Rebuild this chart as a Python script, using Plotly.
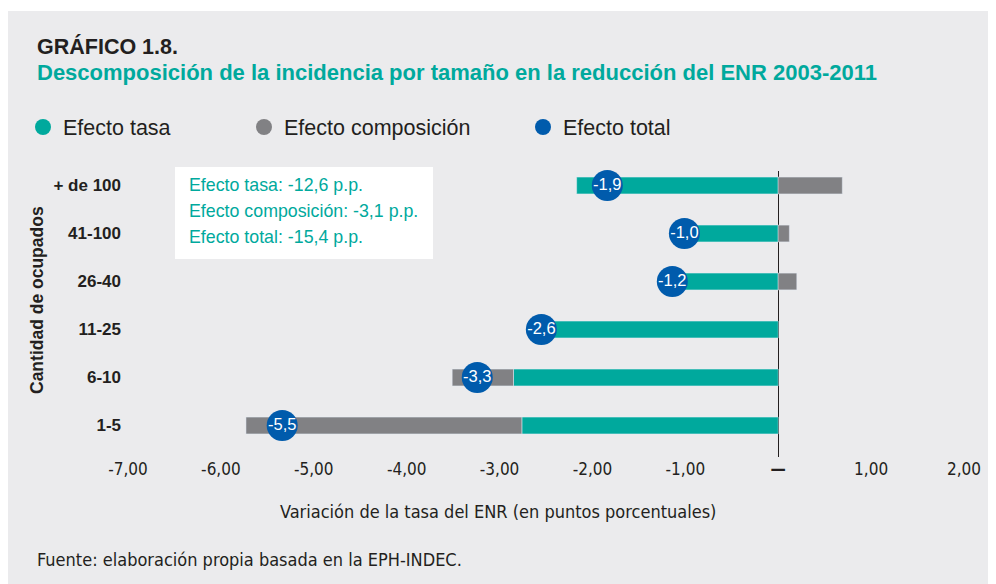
import plotly.graph_objects as go

# ---------------- data ----------------
categories = ["1-5", "6-10", "11-25", "26-40", "41-100", "+ de 100"]
efecto_tasa = [-2.76, -2.85, -2.50, -1.25, -1.10, -2.17]
efecto_composicion = [-2.97, -0.66, -0.05, 0.20, 0.12, 0.69]
efecto_total = [-5.34, -3.24, -2.55, -1.14, -1.01, -1.84]
total_labels = ["-5,5", "-3,3", "-2,6", "-1,2", "-1,0", "-1,9"]
x_tickvals = [-7, -6, -5, -4, -3, -2, -1, 0, 1, 2]
x_ticktext = ["-7,00", "-6,00", "-5,00", "-4,00", "-3,00", "-2,00", "-1,00", "<b>—</b>", "1,00", "2,00"]
box_lines = ["Efecto tasa: -12,6 p.p.", "Efecto composición: -3,1 p.p.", "Efecto total: -15,4 p.p."]

# ---------------- style ----------------
TEAL = "#00A99D"
GRAY = "#818184"
BLUE = "#005BAC"
BG = "#EBEBED"
DARK = "#231F20"
FONT = "Liberation Sans, Arial, Helvetica, sans-serif"
NARROW = "Liberation Sans Narrow, Arial Narrow, DejaVu Sans Condensed, sans-serif"

# page body has an 8px margin: the figure starts at (8, 8) in the window
OFF = 8
PAGE_W, PAGE_H = 996, 584
W, H = PAGE_W - OFF, PAGE_H - OFF
# plot area in window pixels
L, R, T, B = 128, 964, 171, 457


def xp(px):
    return (px - L) / (R - L)


def yp(py):
    return (B - py) / (B - T)


fig = go.Figure()

fig.add_trace(go.Bar(
    x=efecto_tasa, y=categories, orientation="h", marker_color=TEAL,
    width=0.35, showlegend=False, name="Efecto tasa", hoverinfo="x+y"))
fig.add_trace(go.Bar(
    x=efecto_composicion, y=categories, orientation="h", marker_color=GRAY,
    width=0.35, showlegend=False, name="Efecto composición", hoverinfo="x+y"))
fig.add_trace(go.Scatter(
    x=efecto_total, y=categories, mode="markers+text", text=total_labels,
    textposition="middle center",
    textfont=dict(color="white", size=16.5, family=FONT),
    marker=dict(color=BLUE, size=31, line=dict(width=0)),
    showlegend=False, cliponaxis=False, name="Efecto total"))

# legend-only entries (circle symbols)
leg_pos = {"legend": 23, "legend2": 244, "legend3": 523}
for name, col, lg in [("Efecto tasa", TEAL, "legend"),
                      ("Efecto composición", GRAY, "legend2"),
                      ("Efecto total", BLUE, "legend3")]:
    fig.add_trace(go.Scatter(
        x=[None], y=[None], mode="markers", name=name,
        marker=dict(color=col, size=17), legend=lg, showlegend=True))

legend_common = dict(
    orientation="h", xanchor="left", yanchor="middle",
    bgcolor="rgba(0,0,0,0)", font=dict(family=FONT, size=21.5, color=DARK),
    itemsizing="trace")

shapes = [
    dict(type="rect", xref="paper", yref="paper",
         x0=xp(OFF - 2), x1=xp(PAGE_W + 5), y0=yp(11), y1=yp(PAGE_H + 5),
         fillcolor=BG, line=dict(width=0), layer="below"),
    dict(type="rect", xref="paper", yref="paper",
         x0=xp(175), x1=xp(433), y0=yp(167), y1=yp(259),
         fillcolor="white", line=dict(width=0), layer="above"),
]

annotations = [
    dict(text="<b>GRÁFICO 1.8.</b>", x=xp(35), y=yp(46), xref="paper", yref="paper",
         xanchor="left", yanchor="middle", showarrow=False,
         font=dict(family=FONT, size=21.5, color=DARK)),
    dict(text="<b>Descomposición de la incidencia por tamaño en la reducción del ENR 2003-2011</b>",
         x=xp(35), y=yp(73), xref="paper", yref="paper",
         xanchor="left", yanchor="middle", showarrow=False,
         font=dict(family=FONT, size=22, color=TEAL)),
    dict(text="Variación de la tasa del ENR (en puntos porcentuales)",
         x=xp(498), y=yp(511), xref="paper", yref="paper",
         xanchor="center", yanchor="middle", showarrow=False,
         font=dict(family=NARROW, size=18, color=DARK)),
    dict(text="Fuente: elaboración propia basada en la EPH-INDEC.",
         x=xp(35), y=yp(559), xref="paper", yref="paper",
         xanchor="left", yanchor="middle", showarrow=False,
         font=dict(family=NARROW, size=18, color=DARK)),
    dict(text="<b>Cantidad de ocupados</b>", textangle=-90,
         x=xp(37), y=yp(300), xref="paper", yref="paper",
         xanchor="center", yanchor="middle", showarrow=False,
         font=dict(family=FONT, size=17.5, color=DARK)),
]
for i, line in enumerate(box_lines):
    annotations.append(dict(
        text=line, x=xp(187), y=yp(185 + 26 * i), xref="paper", yref="paper",
        xanchor="left", yanchor="middle", showarrow=False,
        font=dict(family=FONT, size=17.8, color=TEAL)))

fig.update_layout(
    width=W, height=H,
    margin=dict(l=L - OFF, r=PAGE_W - R, t=T - OFF, b=PAGE_H - B, pad=0),
    paper_bgcolor="white", plot_bgcolor="rgba(0,0,0,0)",
    barmode="relative", bargap=0.65,
    showlegend=True,
    legend=dict(x=xp(leg_pos["legend"]), y=yp(127), **legend_common),
    legend2=dict(x=xp(leg_pos["legend2"]), y=yp(127), **legend_common),
    legend3=dict(x=xp(leg_pos["legend3"]), y=yp(127), **legend_common),
    xaxis=dict(range=[-7, 2], tickvals=x_tickvals, ticktext=x_ticktext,
               showgrid=False, zeroline=True, zerolinecolor=DARK, zerolinewidth=1,
               showline=False, ticks="",
               tickfont=dict(family=NARROW, size=17, color=DARK)),
    yaxis=dict(type="category", categoryorder="array", categoryarray=categories,
               range=[-0.656, 5.302], showgrid=False, zeroline=False,
               showline=False, ticks="", ticklabelstandoff=6,
               tickfont=dict(family=FONT, size=17, color=DARK, weight="bold")),
    shapes=shapes, annotations=annotations,
    font=dict(family=FONT),
)

fig.write_html("out.html")
